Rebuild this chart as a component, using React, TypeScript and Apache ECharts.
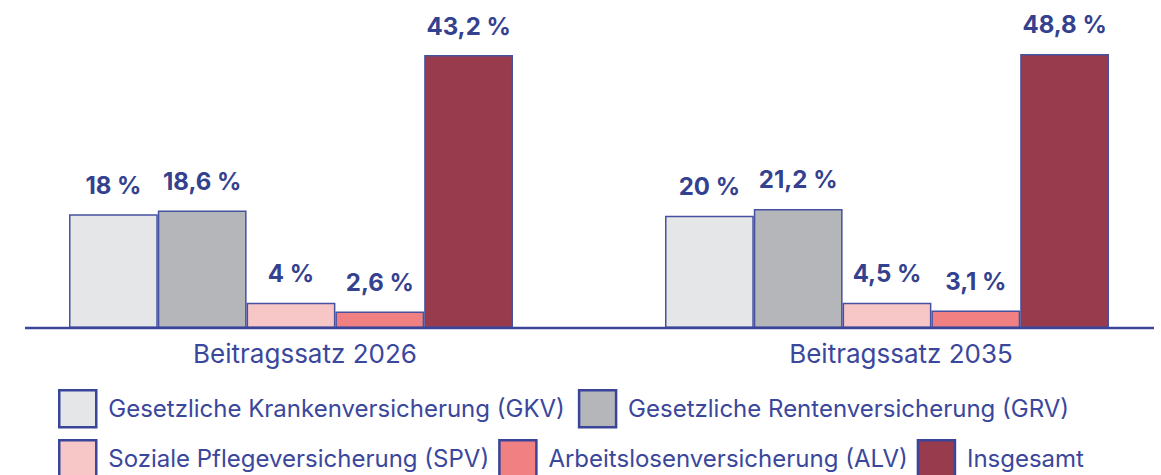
import React, { useEffect, useRef } from "react";
import * as echarts from "echarts";

const categories = ["Beitragssatz 2026", "Beitragssatz 2035"];
const seriesNames = [
  "Gesetzliche Krankenversicherung (GKV)",
  "Gesetzliche Rentenversicherung (GRV)",
  "Soziale Pflegeversicherung (SPV)",
  "Arbeitslosenversicherung (ALV)",
  "Insgesamt",
];
const gkv = [18, 20];
const grv = [18.6, 21.2];
const spv = [4, 4.5];
const alv = [2.6, 3.1];
const insgesamt = [43.2, 48.8];
const colors = ["#e5e6e8", "#b5b6b9", "#f7c7c7", "#f08081", "#983b4d"];
const yMax = [48.74, 54.85];

const NAVY = "#34418f";
const TEXT = "#3a479c";
const BORDER = "#4651a0";

export default function App() {
  const ref = useRef<HTMLDivElement>(null);
  useEffect(() => {
    document.body.style.margin = "0";
    const chart = echarts.init(ref.current!, undefined, { renderer: "svg" });
    const values = [gkv, grv, spv, alv, insgesamt];
    const grids = [
      { left: 25, width: 532, top: 20, bottom: 147 },
      { left: 621, width: 532, top: 20, bottom: 147 },
    ];
    const series: any[] = [];
    for (let g = 0; g < 2; g++) {
      for (let s = 0; s < 5; s++) {
        series.push({
          type: "bar",
          name: seriesNames[s],
          xAxisIndex: g,
          yAxisIndex: g,
          data: [values[s][g]],
          barWidth: 88.8,
          barGap: "0%",
          clip: false,
          itemStyle: { color: colors[s], borderColor: BORDER, borderWidth: 1.5 },
          label: {
            show: true,
            position: "top",
            distance: 17,
            fontFamily: "Inter",
            fontWeight: 700,
            fontSize: 24,
            color: NAVY,
            formatter: (p: any) => String(p.value).replace(".", ",") + " %",
          },
        });
      }
    }
    const legendCommon = {
      left: 53,
      itemWidth: 37,
      itemHeight: 37,
      icon: "rect",
      selectedMode: false,
      itemStyle: { borderColor: "#3a459a", borderWidth: 2.5 },
      textStyle: {
        fontFamily: "Inter",
        fontSize: 24,
        color: TEXT,
        padding: [0, 0, 0, 7],
      },
    };
    chart.setOption({
      animation: false,
      grid: grids,
      xAxis: [0, 1].map((g) => ({
        type: "category",
        gridIndex: g,
        data: [categories[g]],
        axisLine: { show: false },
        axisTick: { show: false },
        axisLabel: {
          fontFamily: "Inter",
          fontSize: 26,
          color: TEXT,
          margin: 12,
          padding: [0, 0, 0, 28],
        },
      })),
      yAxis: [0, 1].map((g) => ({
        type: "value",
        gridIndex: g,
        min: 0,
        max: yMax[g],
        show: false,
        splitLine: { show: false },
      })),
      legend: [
        { ...legendCommon, itemGap: 13, top: 384, data: seriesNames.slice(0, 2) },
        { ...legendCommon, itemGap: 9, top: 434, data: seriesNames.slice(2) },
      ],
      graphic: [
        {
          type: "line",
          shape: { x1: 25, y1: 328, x2: 1154, y2: 328 },
          style: { stroke: "#3a459a", lineWidth: 2.5 },
          z: 100,
        },
      ],
      series,
    });
    return () => chart.dispose();
  }, []);
  return (
    <div
      ref={ref}
      style={{ position: "absolute", left: 0, top: 0, width: 1161, height: 475 }}
    />
  );
}
